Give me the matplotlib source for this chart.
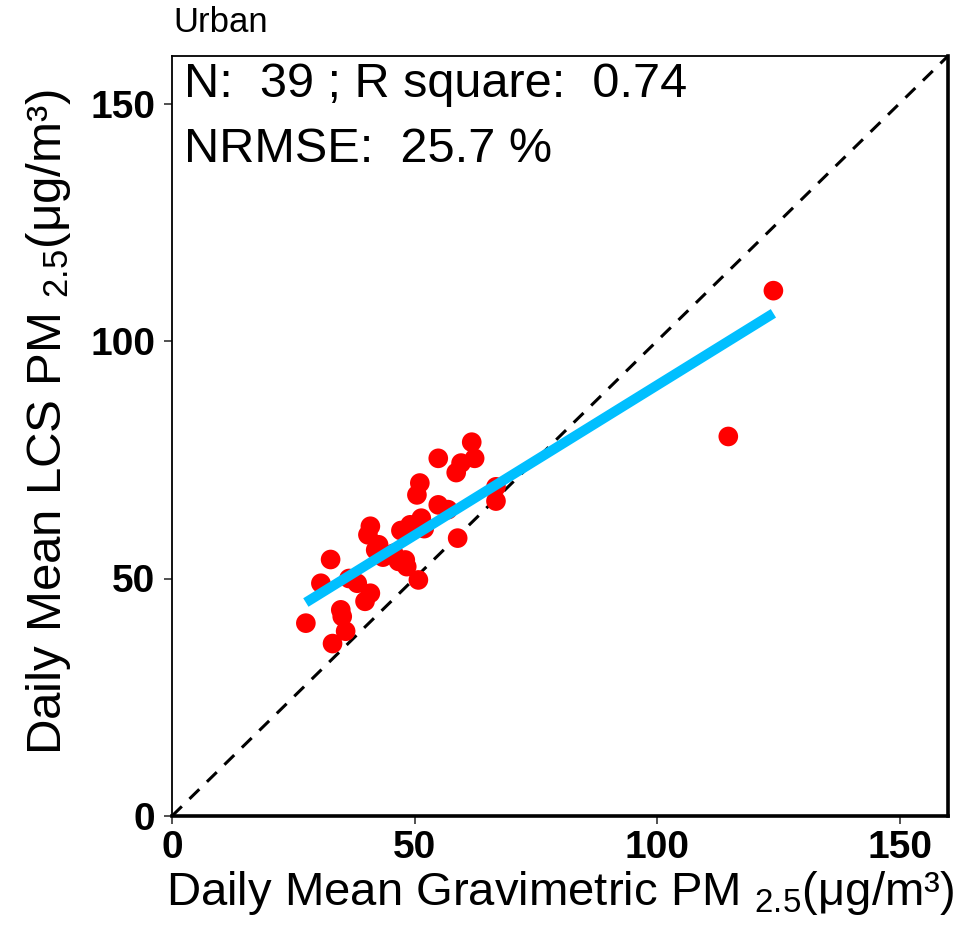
import numpy as np
import matplotlib
matplotlib.use("Agg")
import matplotlib.pyplot as plt

plt.rcParams['font.family'] = ['Liberation Sans', 'DejaVu Sans']
plt.rcParams['mathtext.fontset'] = 'custom'
plt.rcParams['mathtext.rm'] = 'Liberation Sans'
plt.rcParams['mathtext.it'] = 'Liberation Sans'

# Data
gravimetric = [27.6, 30.7, 32.7, 33.1, 34.8, 35.1, 35.8, 36.5, 38.2, 39.8,
               40.9, 40.9, 40.4, 42.6, 42.0, 45.7, 46.7, 48.4, 47.2, 49.1,
               51.4, 50.8, 48.1, 50.5, 51.1, 54.9, 56.9, 54.9, 58.6, 59.6,
               62.4, 61.8, 66.8, 66.8, 58.9, 43.5, 52.0, 114.7, 124.0]
lcs = [40.6, 49.0, 54.0, 36.3, 43.4, 42.0, 38.9, 50.0, 49.0, 45.2,
       46.9, 61.0, 59.2, 57.1, 56.0, 55.3, 53.6, 52.5, 60.1, 61.3,
       62.7, 49.7, 53.9, 67.6, 70.1, 65.5, 64.5, 75.3, 72.3, 74.3,
       75.3, 78.7, 69.3, 66.3, 58.5, 54.5, 60.5, 79.9, 110.6]
stats_n = 39
stats_r2 = 0.74
stats_nrmse = 25.7
title = "Urban"
ticks = [0, 50, 100, 150]

x = np.array(gravimetric)
y = np.array(lcs)

fig = plt.figure(figsize=(9.8, 9.27), dpi=100)
ax = fig.add_axes([172/980, 1-816/927, (948-172)/980, (816-56)/927])

# 1:1 line
ax.plot([0, 160], [0, 160], ls=(0, (4.5, 3.5)), color='black', lw=2.2, zorder=1)

ax.scatter(x, y, s=200, color='#FF0000', edgecolors='none', zorder=2)

# Linear fit
coef = np.polyfit(x, y, 1)
xf = np.linspace(x.min(), x.max(), 50)
ax.plot(xf, np.polyval(coef, xf), color='#00BFFF', lw=7.2, zorder=3,
        solid_capstyle='butt')

ax.set_xlim(0, 160)
ax.set_ylim(0, 160)
ax.set_xticks(ticks)
ax.set_yticks(ticks)
ax.set_xticklabels([str(t) for t in ticks], fontsize=28, fontweight='bold')
ax.set_yticklabels([str(t) for t in ticks], fontsize=28, fontweight='bold')
ax.tick_params(direction='out', length=6, width=1.2, color='#333333')
ax.tick_params(axis='x', pad=4)
ax.tick_params(axis='y', pad=6)

for side in ['left', 'top']:
    ax.spines[side].set_linewidth(1.3)
for side in ['right', 'bottom']:
    ax.spines[side].set_linewidth(2.6)

ax.set_xlabel(r'Daily Mean Gravimetric PM $_{2.5}$(μg/m³)', fontsize=34, labelpad=2)
ax.set_ylabel(r'Daily Mean LCS PM $_{2.5}$(μg/m³)', fontsize=35.5)
ax.yaxis.set_label_coords(-0.127, 0.518)

ax.text(0.016, 0.946, f"N:  {stats_n} ; R square:  {stats_r2}",
        transform=ax.transAxes, fontsize=35, va='baseline', ha='left')
ax.text(0.016, 0.861, f"NRMSE:  {stats_nrmse} %",
        transform=ax.transAxes, fontsize=35, va='baseline', ha='left')

fig.text(173/980, 1-32/927, title, fontsize=25, ha='left', va='baseline')

fig.savefig("out.png", dpi=100)
